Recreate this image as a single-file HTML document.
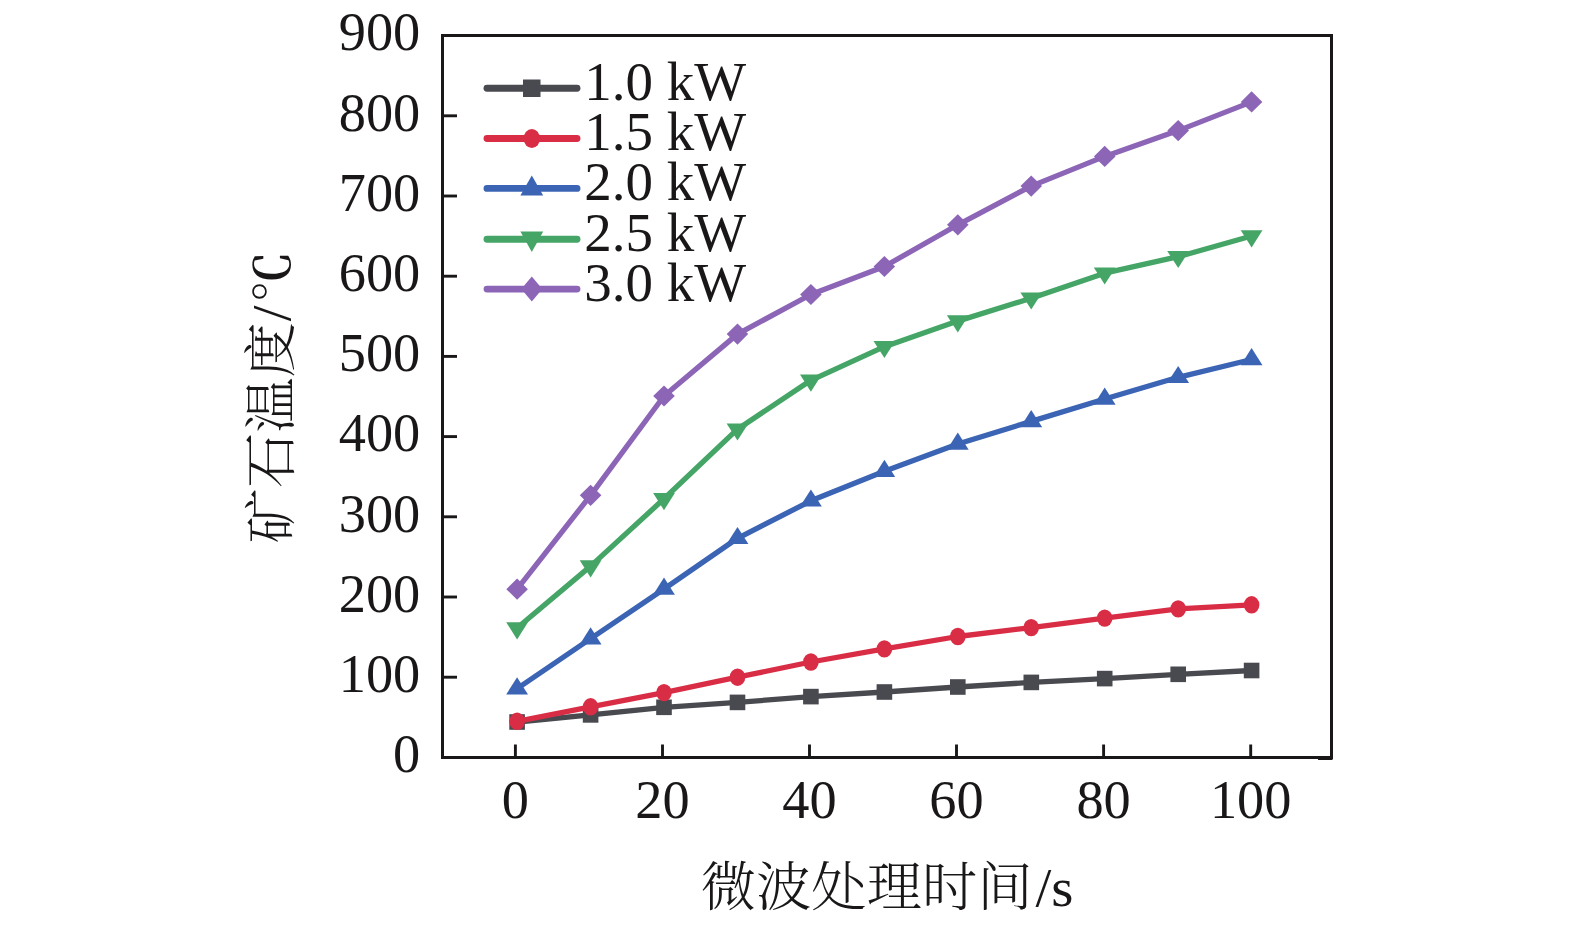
<!DOCTYPE html>
<html lang="zh-CN">
<head>
<meta charset="utf-8">
<title>矿石温度 - 微波处理时间</title>
<style>
html,body{margin:0;padding:0;background:#fff;}
body{width:1575px;height:927px;overflow:hidden;}
svg{display:block;}
.num{font-family:"Liberation Serif","Noto Serif CJK SC",serif;font-size:54.4px;fill:#1a1718;}
.cjk{font-family:"Liberation Serif","Noto Serif CJK SC",serif;font-size:55.3px;font-weight:300;fill:#1a1718;}
.leg{font-size:55px;}
.lat{font-weight:400;font-size:57px;}
.deg{font-weight:600;font-size:51px;}
</style>
</head>
<body>
<svg width="1575" height="927" viewBox="0 0 1575 927">
<rect x="0" y="0" width="1575" height="927" fill="#ffffff"/>

<rect x="442.5" y="35.5" width="889" height="722" fill="none" stroke="#1a1718" stroke-width="3"/>
<rect x="1318" y="757" width="14.5" height="3" fill="#1a1718"/>
<g stroke="#1a1718" stroke-width="2.9">
<line x1="443" y1="677.2" x2="457" y2="677.2"/>
<line x1="443" y1="597.0" x2="457" y2="597.0"/>
<line x1="443" y1="516.8" x2="457" y2="516.8"/>
<line x1="443" y1="436.6" x2="457" y2="436.6"/>
<line x1="443" y1="356.4" x2="457" y2="356.4"/>
<line x1="443" y1="276.2" x2="457" y2="276.2"/>
<line x1="443" y1="196.0" x2="457" y2="196.0"/>
<line x1="443" y1="115.8" x2="457" y2="115.8"/>
<line x1="515.4" y1="757" x2="515.4" y2="744.5"/>
<line x1="662.5" y1="757" x2="662.5" y2="744.5"/>
<line x1="809.5" y1="757" x2="809.5" y2="744.5"/>
<line x1="956.5" y1="757" x2="956.5" y2="744.5"/>
<line x1="1103.6" y1="757" x2="1103.6" y2="744.5"/>
<line x1="1250.7" y1="757" x2="1250.7" y2="744.5"/>
</g>
<text class="num" text-anchor="end" transform="translate(420.3,772.1) scale(1,1.015)">0</text>
<text class="num" text-anchor="end" transform="translate(420.3,691.9) scale(1,1.015)">100</text>
<text class="num" text-anchor="end" transform="translate(420.3,611.7) scale(1,1.015)">200</text>
<text class="num" text-anchor="end" transform="translate(420.3,531.5) scale(1,1.015)">300</text>
<text class="num" text-anchor="end" transform="translate(420.3,451.3) scale(1,1.015)">400</text>
<text class="num" text-anchor="end" transform="translate(420.3,371.1) scale(1,1.015)">500</text>
<text class="num" text-anchor="end" transform="translate(420.3,290.9) scale(1,1.015)">600</text>
<text class="num" text-anchor="end" transform="translate(420.3,210.7) scale(1,1.015)">700</text>
<text class="num" text-anchor="end" transform="translate(420.3,130.5) scale(1,1.015)">800</text>
<text class="num" text-anchor="end" transform="translate(420.3,50.3) scale(1,1.015)">900</text>
<text class="num" text-anchor="middle" transform="translate(515.4,818.0) scale(1,1.015)">0</text>
<text class="num" text-anchor="middle" transform="translate(662.5,818.0) scale(1,1.015)">20</text>
<text class="num" text-anchor="middle" transform="translate(809.5,818.0) scale(1,1.015)">40</text>
<text class="num" text-anchor="middle" transform="translate(956.5,818.0) scale(1,1.015)">60</text>
<text class="num" text-anchor="middle" transform="translate(1103.6,818.0) scale(1,1.015)">80</text>
<text class="num" text-anchor="middle" transform="translate(1250.7,818.0) scale(1,1.015)">100</text>
<text class="cjk" transform="translate(700.8,906.2) scale(1,0.96)">微波处理时间<tspan class="lat" dx="3">/s</tspan></text>
<text class="cjk" transform="translate(290,543.4) rotate(-90) scale(1,0.96)">矿石温度<tspan class="lat" dx="1">/</tspan><tspan class="deg" dx="3.2">℃</tspan></text>
<g><polyline points="517.1,722.0 590.6,714.9 664.0,707.3 737.5,702.4 810.9,696.6 884.4,692.0 957.8,687.0 1031.2,682.4 1104.7,678.6 1178.2,674.3 1251.6,670.5" fill="none" stroke="#494a50" stroke-width="5.3" stroke-linejoin="round" stroke-linecap="round"/>
<rect x="509.3" y="714.2" width="15.6" height="15.6" fill="#494a50"/>
<rect x="582.8" y="707.1" width="15.6" height="15.6" fill="#494a50"/>
<rect x="656.2" y="699.5" width="15.6" height="15.6" fill="#494a50"/>
<rect x="729.7" y="694.6" width="15.6" height="15.6" fill="#494a50"/>
<rect x="803.1" y="688.8" width="15.6" height="15.6" fill="#494a50"/>
<rect x="876.6" y="684.2" width="15.6" height="15.6" fill="#494a50"/>
<rect x="950.0" y="679.2" width="15.6" height="15.6" fill="#494a50"/>
<rect x="1023.5" y="674.6" width="15.6" height="15.6" fill="#494a50"/>
<rect x="1096.9" y="670.8" width="15.6" height="15.6" fill="#494a50"/>
<rect x="1170.4" y="666.5" width="15.6" height="15.6" fill="#494a50"/>
<rect x="1243.8" y="662.7" width="15.6" height="15.6" fill="#494a50"/>
</g>
<g><polyline points="517.1,721.3 590.6,706.8 664.0,692.6 737.5,677.2 810.9,662.0 884.4,648.9 957.8,636.5 1031.2,627.6 1104.7,618.1 1178.2,608.9 1251.6,604.8" fill="none" stroke="#d92d46" stroke-width="5.3" stroke-linejoin="round" stroke-linecap="round"/>
<ellipse cx="517.1" cy="721.3" rx="7.8" ry="8.7" fill="#d92d46"/>
<ellipse cx="590.6" cy="706.8" rx="7.8" ry="8.7" fill="#d92d46"/>
<ellipse cx="664.0" cy="692.6" rx="7.8" ry="8.7" fill="#d92d46"/>
<ellipse cx="737.5" cy="677.2" rx="7.8" ry="8.7" fill="#d92d46"/>
<ellipse cx="810.9" cy="662.0" rx="7.8" ry="8.7" fill="#d92d46"/>
<ellipse cx="884.4" cy="648.9" rx="7.8" ry="8.7" fill="#d92d46"/>
<ellipse cx="957.8" cy="636.5" rx="7.8" ry="8.7" fill="#d92d46"/>
<ellipse cx="1031.2" cy="627.6" rx="7.8" ry="8.7" fill="#d92d46"/>
<ellipse cx="1104.7" cy="618.1" rx="7.8" ry="8.7" fill="#d92d46"/>
<ellipse cx="1178.2" cy="608.9" rx="7.8" ry="8.7" fill="#d92d46"/>
<ellipse cx="1251.6" cy="604.8" rx="7.8" ry="8.7" fill="#d92d46"/>
</g>
<g><polyline points="517.1,688.6 590.6,638.6 664.0,589.0 737.5,538.3 810.9,500.8 884.4,471.2 957.8,444.0 1031.2,421.4 1104.7,399.0 1178.2,377.3 1251.6,359.5" fill="none" stroke="#3b64b4" stroke-width="5.3" stroke-linejoin="round" stroke-linecap="round"/>
<polygon points="517.1,677.2 528.0,694.4 506.2,694.4" fill="#3b64b4"/>
<polygon points="590.6,627.2 601.5,644.4 579.7,644.4" fill="#3b64b4"/>
<polygon points="664.0,577.6 674.9,594.8 653.1,594.8" fill="#3b64b4"/>
<polygon points="737.5,526.9 748.4,544.1 726.6,544.1" fill="#3b64b4"/>
<polygon points="810.9,489.4 821.8,506.6 800.0,506.6" fill="#3b64b4"/>
<polygon points="884.4,459.8 895.2,477.0 873.5,477.0" fill="#3b64b4"/>
<polygon points="957.8,432.6 968.7,449.8 946.9,449.8" fill="#3b64b4"/>
<polygon points="1031.2,410.0 1042.2,427.2 1020.4,427.2" fill="#3b64b4"/>
<polygon points="1104.7,387.6 1115.6,404.8 1093.8,404.8" fill="#3b64b4"/>
<polygon points="1178.2,365.9 1189.1,383.1 1167.2,383.1" fill="#3b64b4"/>
<polygon points="1251.6,348.1 1262.5,365.3 1240.7,365.3" fill="#3b64b4"/>
</g>
<g><polyline points="517.1,628.0 590.6,566.1 664.0,498.8 737.5,429.2 810.9,380.3 884.4,346.7 957.8,321.1 1031.2,298.2 1104.7,273.2 1178.2,256.7 1251.6,236.0" fill="none" stroke="#45a566" stroke-width="5.3" stroke-linejoin="round" stroke-linecap="round"/>
<polygon points="506.2,622.2 528.0,622.2 517.1,639.4" fill="#45a566"/>
<polygon points="579.7,560.3 601.5,560.3 590.6,577.5" fill="#45a566"/>
<polygon points="653.1,493.0 674.9,493.0 664.0,510.2" fill="#45a566"/>
<polygon points="726.6,423.4 748.4,423.4 737.5,440.6" fill="#45a566"/>
<polygon points="800.0,374.5 821.8,374.5 810.9,391.7" fill="#45a566"/>
<polygon points="873.5,340.9 895.2,340.9 884.4,358.1" fill="#45a566"/>
<polygon points="946.9,315.3 968.7,315.3 957.8,332.5" fill="#45a566"/>
<polygon points="1020.4,292.4 1042.2,292.4 1031.2,309.6" fill="#45a566"/>
<polygon points="1093.8,267.4 1115.6,267.4 1104.7,284.6" fill="#45a566"/>
<polygon points="1167.2,250.9 1189.1,250.9 1178.2,268.1" fill="#45a566"/>
<polygon points="1240.7,230.2 1262.5,230.2 1251.6,247.4" fill="#45a566"/>
</g>
<g><polyline points="517.1,589.2 590.6,495.3 664.0,396.0 737.5,334.1 810.9,294.5 884.4,266.5 957.8,224.8 1031.2,186.1 1104.7,156.4 1178.2,130.6 1251.6,101.9" fill="none" stroke="#8c65b7" stroke-width="5.3" stroke-linejoin="round" stroke-linecap="round"/>
<polygon points="517.1,578.6 527.9,589.2 517.1,599.8 506.3,589.2" fill="#8c65b7"/>
<polygon points="590.6,484.7 601.4,495.3 590.6,505.9 579.8,495.3" fill="#8c65b7"/>
<polygon points="664.0,385.4 674.8,396.0 664.0,406.6 653.2,396.0" fill="#8c65b7"/>
<polygon points="737.5,323.5 748.2,334.1 737.5,344.7 726.7,334.1" fill="#8c65b7"/>
<polygon points="810.9,283.9 821.7,294.5 810.9,305.1 800.1,294.5" fill="#8c65b7"/>
<polygon points="884.4,255.9 895.1,266.5 884.4,277.1 873.6,266.5" fill="#8c65b7"/>
<polygon points="957.8,214.2 968.6,224.8 957.8,235.4 947.0,224.8" fill="#8c65b7"/>
<polygon points="1031.2,175.5 1042.0,186.1 1031.2,196.7 1020.5,186.1" fill="#8c65b7"/>
<polygon points="1104.7,145.8 1115.5,156.4 1104.7,167.0 1093.9,156.4" fill="#8c65b7"/>
<polygon points="1178.2,120.0 1189.0,130.6 1178.2,141.2 1167.4,130.6" fill="#8c65b7"/>
<polygon points="1251.6,91.3 1262.4,101.9 1251.6,112.5 1240.8,101.9" fill="#8c65b7"/>
</g>
<g><line x1="487" y1="88.3" x2="577" y2="88.3" stroke="#494a50" stroke-width="6.9" stroke-linecap="round"/>
<rect x="523.0" y="79.5" width="17.5" height="17.5" fill="#494a50"/>
<text class="num leg" text-anchor="start" transform="translate(584.3,100.4) scale(1,1.015)">1.0 kW</text></g>
<g><line x1="487" y1="138.5" x2="577" y2="138.5" stroke="#d92d46" stroke-width="6.9" stroke-linecap="round"/>
<ellipse cx="531.8" cy="138.5" rx="8.2" ry="9.6" fill="#d92d46"/>
<text class="num leg" text-anchor="start" transform="translate(584.3,150.2) scale(1,1.015)">1.5 kW</text></g>
<g><line x1="487" y1="188.4" x2="577" y2="188.4" stroke="#3b64b4" stroke-width="6.9" stroke-linecap="round"/>
<polygon points="531.8,175.6 543.2,195.6 520.4,195.6" fill="#3b64b4"/>
<text class="num leg" text-anchor="start" transform="translate(584.3,200.3) scale(1,1.015)">2.0 kW</text></g>
<g><line x1="487" y1="239.2" x2="577" y2="239.2" stroke="#45a566" stroke-width="6.9" stroke-linecap="round"/>
<polygon points="520.4,231.5 543.2,231.5 531.8,252.1" fill="#45a566"/>
<text class="num leg" text-anchor="start" transform="translate(584.3,250.8) scale(1,1.015)">2.5 kW</text></g>
<g><line x1="487" y1="289.1" x2="577" y2="289.1" stroke="#8c65b7" stroke-width="6.9" stroke-linecap="round"/>
<polygon points="531.8,276.6 542.3,289.1 531.8,301.6 521.3,289.1" fill="#8c65b7"/>
<text class="num leg" text-anchor="start" transform="translate(584.3,300.7) scale(1,1.015)">3.0 kW</text></g>
</svg>
</body>
</html>
